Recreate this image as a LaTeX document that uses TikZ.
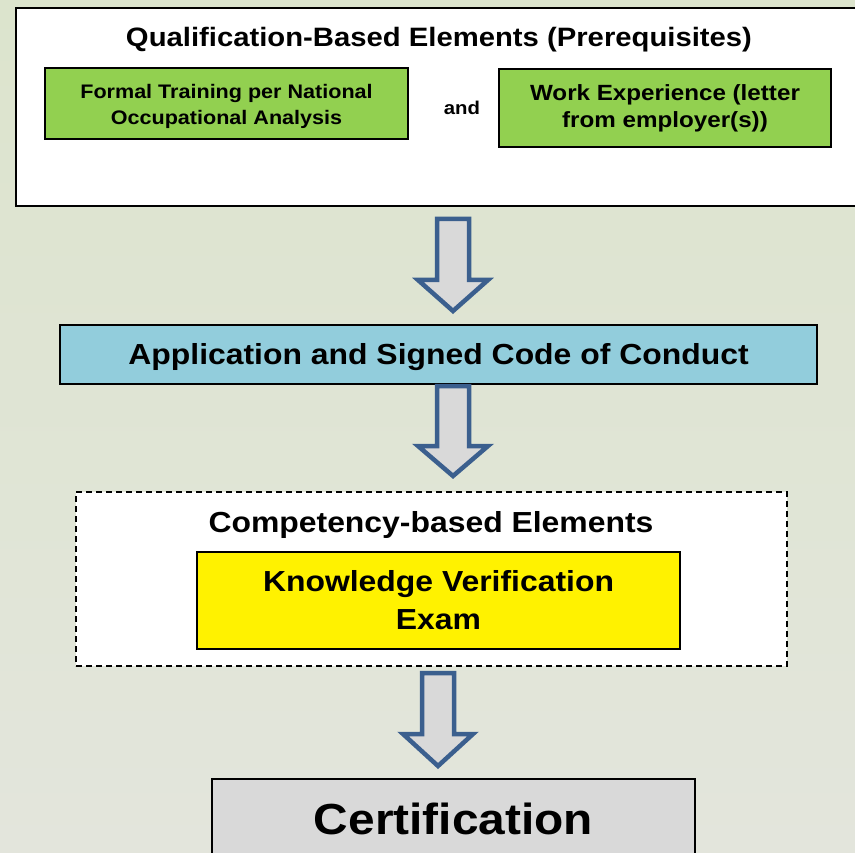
\documentclass[tikz,border=0pt]{standalone}
\usepackage{fontspec}
\setmainfont[FakeStretch=1.1]{Liberation Sans}
\usetikzlibrary{calc}
\definecolor{bgtop}{HTML}{DCE4CD}
\definecolor{bgbot}{HTML}{E3E5DC}
\definecolor{greenfill}{HTML}{92D050}
\definecolor{bluefill}{HTML}{92CDDC}
\definecolor{grayfill}{HTML}{D9D9D9}
\definecolor{arrowblue}{HTML}{3B5F8E}
\tikzset{
  panel/.style={draw=black, line width=2pt, fill=white},
  greenbox/.style={draw=black, line width=1.6pt, fill=greenfill, align=center, inner sep=0pt},
  stepbox/.style={draw=black, line width=1.6pt, align=center, inner sep=0pt},
  blockarrow/.style={draw=arrowblue, line width=4.5pt, fill=grayfill, line join=miter},
  label/.style={align=center, inner sep=0pt, font=\bfseries}
}
\begin{document}
\begin{tikzpicture}[x=1pt, y=-1pt]
  % background
  \shade[top color=bgtop, bottom color=bgbot] (0,0) rectangle (855,853);
  \useasboundingbox (0,0) rectangle (855,853);

  % prerequisites panel
  \node[panel, anchor=north west, minimum width=870pt, minimum height=198pt] (qual) at (15,7) {};
  \node[label, font=\bfseries\fontsize{26.6}{30}\selectfont] (qualtitle) at (439,40) {Qualification-Based Elements (Prerequisites)};
  \node[greenbox, minimum width=363pt, minimum height=71pt] (training) at (226.5,103.5) {};
  \node[label, font=\bfseries\fontsize{19.6}{26}\selectfont] (trainingtext) at (226.5,106.5)
    {Formal Training per National\\Occupational Analysis};
  \node[label, font=\bfseries\fontsize{18.5}{20}\selectfont] (and) at (462,108) {and};
  \node[greenbox, minimum width=332pt, minimum height=78pt, font=\bfseries\fontsize{22}{27}\selectfont] (work) at (665,108)
    {Work Experience (letter\\from employer(s))};

  % application step
  \node[stepbox, fill=bluefill, minimum width=757pt, minimum height=59pt] (app) at (438.5,354.5) {};
  \node[label, font=\bfseries\fontsize{29}{32}\selectfont] (apptext) at (438.5,357.5)
    {Application and Signed Code of Conduct};

  % competency panel
  \node[draw=black, line width=1.5pt, dash pattern=on 6pt off 4pt, fill=white, minimum width=711pt, minimum height=174pt] (comp) at (431.5,579) {};
  \node[label, font=\bfseries\fontsize{29}{32}\selectfont] (comptitle) at (431,525) {Competency-based Elements};
  \node[stepbox, fill=yellow, minimum width=483pt, minimum height=97pt, font=\bfseries\fontsize{29}{38}\selectfont] (exam) at (438.5,600.5)
    {Knowledge Verification\\Exam};

  % certification
  \node[stepbox, fill=grayfill, anchor=north, minimum width=483pt, minimum height=100pt] (cert) at (453.5,778) {};
  \node[label, font=\bfseries\fontsize{43.5}{48}\selectfont] (certtext) at (453.5,819) {Certification};

  % block arrows between the stages
  \coordinate (a1) at (453,219);
  \coordinate (a2) at (453,386);
  \coordinate (a3) at (438,673);
  \draw[blockarrow] ($(a1)+(-16,0)$) -- ($(a1)+(16,0)$) -- ($(a1)+(16,61)$) -- ($(a1)+(35,61)$)
    -- ($(a1)+(0,92)$) -- ($(a1)+(-35,61)$) -- ($(a1)+(-16,61)$) -- cycle;
  \draw[blockarrow] ($(a2)+(-16,0)$) -- ($(a2)+(16,0)$) -- ($(a2)+(16,60)$) -- ($(a2)+(35,60)$)
    -- ($(a2)+(0,90)$) -- ($(a2)+(-35,60)$) -- ($(a2)+(-16,60)$) -- cycle;
  \draw[blockarrow] ($(a3)+(-16,0)$) -- ($(a3)+(16,0)$) -- ($(a3)+(16,61)$) -- ($(a3)+(35,61)$)
    -- ($(a3)+(0,93)$) -- ($(a3)+(-35,61)$) -- ($(a3)+(-16,61)$) -- cycle;
\end{tikzpicture}
\end{document}
